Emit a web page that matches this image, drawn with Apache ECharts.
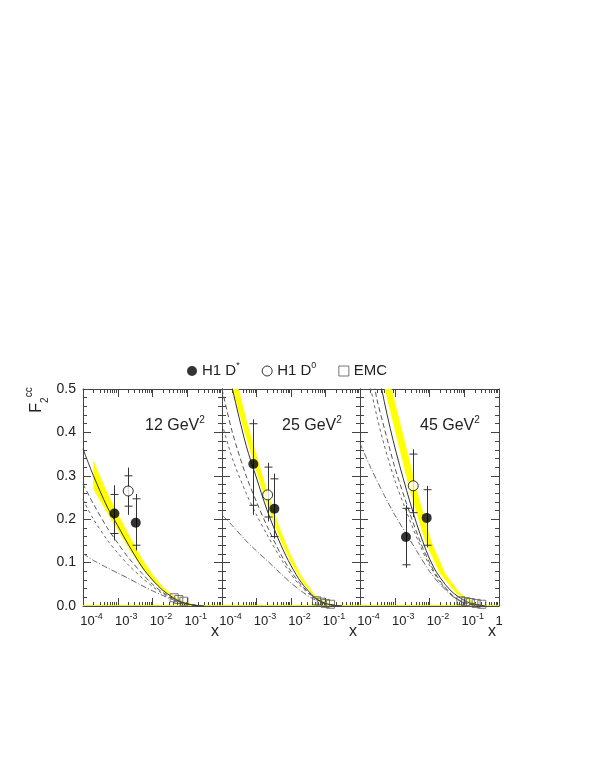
<!DOCTYPE html>
<html>
<head>
<meta charset="utf-8">
<script src="https://cdn.jsdelivr.net/npm/echarts@6/dist/echarts.min.js"></script>
<style>
  html, body { margin: 0; padding: 0; background: #fff; }
  #chart { width: 599px; height: 776px; }
</style>
</head>
<body>
<div id="chart"></div>
<script>
// Q^2 of each panel (GeV^2)
const PANEL_Q2 = ['12', '25', '45'];
// decade tick values of the x axis
const X_TICKS = [1e-4, 1e-3, 1e-2, 1e-1, 1];

// H1 D* : [panel, x, F2cc, statLo, statHi, totLo, totHi]
const H1_DSTAR = [
  [0, 8.0e-4, 0.213, 0.167, 0.257, 0.151, 0.278],
  [0, 3.3e-3, 0.192, 0.140, 0.247, 0.128, 0.258],
  [1, 8.1e-4, 0.327, 0.232, 0.420, 0.210, 0.430],
  [1, 3.3e-3, 0.224, 0.160, 0.293, 0.155, 0.305],
  [2, 2.1e-3, 0.159, 0.095, 0.225, 0.088, 0.232],
  [2, 8.3e-3, 0.203, 0.140, 0.268, 0.135, 0.277]
];
// H1 D0 : [panel, x, F2cc, statLo, statHi, totLo, totHi]
const H1_D0 = [
  [0, 2.0e-3, 0.265, 0.230, 0.300, 0.210, 0.319],
  [1, 2.1e-3, 0.256, 0.205, 0.320, 0.195, 0.330],
  [2, 3.4e-3, 0.277, 0.215, 0.350, 0.205, 0.361]
];
// EMC : [panel, x, F2cc]
const EMC = [
  [0, 0.042, 0.019], [0, 0.057, 0.015], [0, 0.080, 0.011],
  [1, 0.055, 0.012], [1, 0.075, 0.009], [1, 0.100, 0.006], [1, 0.140, 0.004],
  [2, 0.080, 0.012], [2, 0.110, 0.010], [2, 0.150, 0.008], [2, 0.220, 0.006], [2, 0.320, 0.004]
];

// theory curves, one list of [x, F2cc] per panel
const SOLID = [
  [[1e-4, 0.362], [2e-4, 0.300], [5e-4, 0.228], [1e-3, 0.185], [2e-3, 0.142], [5e-3, 0.090], [1e-2, 0.060], [2e-2, 0.036], [5e-2, 0.014], [0.1, 0.005], [0.2, 0.001], [0.3, 0]],
  [[1.7e-4, 0.530], [2e-4, 0.500], [5e-4, 0.370], [1e-3, 0.295], [2e-3, 0.222], [5e-3, 0.142], [1e-2, 0.093], [2e-2, 0.054], [5e-2, 0.019], [0.1, 0.006], [0.2, 0.001], [0.3, 0]],
  [[3.8e-4, 0.530], [4.2e-4, 0.500], [9e-4, 0.381], [2.2e-3, 0.266], [5.3e-3, 0.167], [1.3e-2, 0.090], [3.9e-2, 0.037], [0.117, 0.010], [0.28, 0.002], [0.4, 0]]
];
const DASH_A = [
  [[1e-4, 0.281], [2e-4, 0.235], [5e-4, 0.180], [1e-3, 0.145], [2e-3, 0.112], [5e-3, 0.075], [1e-2, 0.050], [2e-2, 0.031], [5e-2, 0.013], [0.1, 0.005], [0.2, 0.001], [0.3, 0]],
  [[1e-4, 0.500], [2e-4, 0.400], [5e-4, 0.300], [1e-3, 0.240], [2e-3, 0.185], [5e-3, 0.120], [1e-2, 0.080], [2e-2, 0.048], [5e-2, 0.018], [0.1, 0.006], [0.2, 0.001], [0.3, 0]],
  [[2.4e-4, 0.530], [3e-4, 0.480], [5e-4, 0.410], [1e-3, 0.320], [2e-3, 0.245], [5e-3, 0.155], [1e-2, 0.100], [2e-2, 0.058], [5e-2, 0.022], [0.1, 0.008], [0.2, 0.002], [0.3, 0]]
];
const DASH_B = [
  [[1e-4, 0.245], [2e-4, 0.200], [5e-4, 0.152], [1e-3, 0.122], [2e-3, 0.095], [5e-3, 0.065], [1e-2, 0.045], [2e-2, 0.028], [5e-2, 0.012], [0.1, 0.004], [0.2, 0.001], [0.3, 0]],
  [[1e-4, 0.420], [2e-4, 0.340], [5e-4, 0.260], [1e-3, 0.210], [2e-3, 0.165], [5e-3, 0.110], [1e-2, 0.073], [2e-2, 0.044], [5e-2, 0.017], [0.1, 0.006], [0.2, 0.001], [0.3, 0]],
  [[1.7e-4, 0.530], [3e-4, 0.440], [5e-4, 0.370], [1e-3, 0.290], [2e-3, 0.225], [5e-3, 0.145], [1e-2, 0.094], [2e-2, 0.055], [5e-2, 0.021], [0.1, 0.008], [0.2, 0.002], [0.3, 0]]
];
const DASH_DOT = [
  [[1e-4, 0.121], [2e-4, 0.105], [5e-4, 0.088], [1e-3, 0.076], [2e-3, 0.064], [5e-3, 0.047], [1e-2, 0.035], [2e-2, 0.024], [5e-2, 0.011], [0.1, 0.004], [0.2, 0.001], [0.3, 0]],
  [[1e-4, 0.210], [2e-4, 0.185], [5e-4, 0.150], [1e-3, 0.127], [2e-3, 0.105], [5e-3, 0.075], [1e-2, 0.053], [2e-2, 0.034], [5e-2, 0.014], [0.1, 0.005], [0.2, 0.001], [0.3, 0]],
  [[1e-4, 0.375], [2e-4, 0.320], [5e-4, 0.255], [1e-3, 0.210], [2e-3, 0.170], [5e-3, 0.118], [1e-2, 0.080], [2e-2, 0.050], [5e-2, 0.020], [0.1, 0.007], [0.2, 0.002], [0.3, 0]]
];
// yellow band: upper (right) edge and lower (left) edge per panel
const BAND_HI = [
  [[2e-4, 0.335], [3e-4, 0.300], [5e-4, 0.260], [1e-3, 0.212], [2e-3, 0.166], [5e-3, 0.108], [1e-2, 0.072], [2e-2, 0.043], [5e-2, 0.017], [0.1, 0.006], [0.2, 0.001], [0.3, 0]],
  [[2.8e-4, 0.530], [3e-4, 0.500], [5e-4, 0.430], [1e-3, 0.345], [2e-3, 0.265], [5e-3, 0.173], [1e-2, 0.115], [2e-2, 0.068], [5e-2, 0.024], [0.1, 0.008], [0.2, 0.001], [0.3, 0]],
  [[7.6e-4, 0.530], [8.1e-4, 0.500], [4.3e-3, 0.266], [1.08e-2, 0.151], [2.8e-2, 0.075], [7.5e-2, 0.029], [0.2, 0.006], [0.35, 0]]
];
const BAND_LO = [
  [[2e-4, 0.270], [3e-4, 0.245], [5e-4, 0.215], [1e-3, 0.175], [2e-3, 0.135], [5e-3, 0.088], [1e-2, 0.058], [2e-2, 0.035], [5e-2, 0.014], [0.1, 0.005], [0.2, 0.001], [0.3, 0]],
  [[1.9e-4, 0.530], [2e-4, 0.500], [5e-4, 0.390], [1e-3, 0.310], [2e-3, 0.235], [5e-3, 0.152], [1e-2, 0.100], [2e-2, 0.058], [5e-2, 0.020], [0.1, 0.006], [0.2, 0.001], [0.3, 0]],
  [[4.9e-4, 0.530], [5.2e-4, 0.500], [2.75e-3, 0.266], [7.4e-3, 0.151], [2.0e-2, 0.075], [6.0e-2, 0.029], [0.18, 0.006], [0.35, 0]]
];
// yellow line along the bottom of each panel
const BAND_FLOOR = [[1e-4, 0.001], [1, 0.001]];

const FONT = '"Liberation Sans", Arial, Helvetica, sans-serif';
const INK = '#222';
const FRAME = '#444';
const GRIDS = [
  { left: 83, top: 389, width: 139, height: 217 },
  { left: 222, top: 389, width: 138, height: 217 },
  { left: 360, top: 389, width: 139, height: 217 }
];

const xMinor = [];
X_TICKS.slice(0, -1).forEach(d => { for (let k = 2; k <= 9; k++) xMinor.push(+(d * k).toPrecision(3)); });

function xLabel(v) {
  const e = Math.round(Math.log10(v));
  if (e === 0) return '{b|1}';
  return '{p|}{b|10}{s|' + e + '}';
}
const xRich = {
  p: { width: 17 },
  b: { fontSize: 13, fontFamily: FONT, color: INK, lineHeight: 19 },
  s: { fontSize: 9, fontFamily: FONT, color: INK, lineHeight: 9, verticalAlign: 'top' }
};

const grid = GRIDS.map(g => Object.assign({ containLabel: false }, g));
const xAxis = [];
const yAxis = [];
const series = [];

GRIDS.forEach((g, i) => {
  const common = {
    type: 'log', logBase: 10, gridIndex: i, min: 1e-4, max: 1,
    axisLine: { show: true, onZero: false, lineStyle: { color: FRAME, width: 1 } },
    axisTick: { show: true, inside: true, length: 8, lineStyle: { color: FRAME } },
    splitLine: { show: false }
  };
  xAxis.push(Object.assign({}, common, {
    position: 'bottom',
    axisLabel: {
      show: true, formatter: xLabel, rich: xRich, margin: 6,
      showMinLabel: true, showMaxLabel: i === 2
    }
  }));
  xAxis.push(Object.assign({}, common, { position: 'top', axisLabel: { show: false } }));

  const yCommon = {
    type: 'value', gridIndex: i, min: 0, max: 0.5, interval: 0.1,
    axisLine: { show: true, lineStyle: { color: FRAME, width: 1 } },
    axisTick: { show: true, inside: true, length: 8, lineStyle: { color: FRAME } },
    minorTick: { show: true, splitNumber: 5, length: 4, lineStyle: { color: FRAME } },
    splitLine: { show: false },
    minorSplitLine: { show: false }
  };
  yAxis.push(Object.assign({}, yCommon, {
    position: 'left',
    axisLabel: {
      show: i === 0, formatter: v => v.toFixed(1), margin: 7,
      fontSize: 14, fontFamily: FONT, color: INK
    }
  }));
  yAxis.push(Object.assign({}, yCommon, { position: 'right', axisLabel: { show: false } }));

  const xa = 2 * i, ya = 2 * i;

  // minor log ticks on bottom and top edges
  series.push({
    type: 'custom', xAxisIndex: xa, yAxisIndex: ya, silent: true, z: 1,
    data: xMinor.map(x => [x, 0]),
    renderItem: (params, api) => {
      const b = api.coord([api.value(0), 0]);
      const t = api.coord([api.value(0), 0.5]);
      const x = Math.round(b[0]) + 0.5;
      return {
        type: 'group', children: [
          { type: 'line', shape: { x1: x, y1: b[1], x2: x, y2: b[1] - 4 }, style: { stroke: FRAME, lineWidth: 1 } },
          { type: 'line', shape: { x1: x, y1: t[1], x2: x, y2: t[1] + 4 }, style: { stroke: FRAME, lineWidth: 1 } }
        ]
      };
    }
  });

  // yellow band
  const bandPts = BAND_HI[i].concat(BAND_LO[i].slice().reverse());
  series.push({
    type: 'custom', xAxisIndex: xa, yAxisIndex: ya, silent: true, clip: true, z: 2,
    data: bandPts,
    renderItem: (params, api) => {
      if (params.dataIndex !== 0) return null;
      return {
        type: 'polygon',
        shape: { points: bandPts.map(p => api.coord(p)) },
        style: { fill: '#ffff00', stroke: '#ffff00', lineWidth: 0.5 }
      };
    }
  });
  series.push({
    type: 'line', xAxisIndex: xa, yAxisIndex: ya, data: BAND_FLOOR, showSymbol: false, silent: true, z: 2,
    lineStyle: { color: '#f0f000', width: 1 }
  });

  // theory curves
  const curve = (data, color, type) => ({
    type: 'line', xAxisIndex: xa, yAxisIndex: ya, data: data, showSymbol: false, silent: true,
    smooth: 0.3, clip: true, z: 3,
    lineStyle: { color: color, width: 1, type: type }
  });
  series.push(curve(DASH_DOT[i], '#666', [6, 2, 1, 2]));
  series.push(curve(DASH_B[i], '#666', [3, 3]));
  series.push(curve(DASH_A[i], '#555', [5, 3]));
  series.push(curve(SOLID[i], '#333', 'solid'));

  // error bars
  const errRows = H1_DSTAR.concat(H1_D0).filter(r => r[0] === i).map(r => r.slice(1));
  series.push({
    type: 'custom', xAxisIndex: xa, yAxisIndex: ya, silent: true, z: 4,
    data: errRows,
    renderItem: (params, api) => {
      const x = api.value(0);
      const lo = api.coord([x, api.value(4)]);
      const hi = api.coord([x, api.value(5)]);
      const sl = api.coord([x, api.value(2)]);
      const sh = api.coord([x, api.value(3)]);
      const px = Math.round(lo[0]) + 0.5;
      const st = { stroke: '#333', lineWidth: 1 };
      return {
        type: 'group', children: [
          { type: 'line', shape: { x1: px, y1: lo[1], x2: px, y2: hi[1] }, style: st },
          { type: 'line', shape: { x1: px - 4, y1: sl[1], x2: px + 4, y2: sl[1] }, style: st },
          { type: 'line', shape: { x1: px - 4, y1: sh[1], x2: px + 4, y2: sh[1] }, style: st }
        ]
      };
    }
  });

  series.push({
    name: 'H1 D*', type: 'scatter', xAxisIndex: xa, yAxisIndex: ya, z: 5,
    data: H1_DSTAR.filter(r => r[0] === i).map(r => [r[1], r[2]]),
    symbol: 'circle', symbolSize: 10, itemStyle: { color: '#000' }
  });
  series.push({
    name: 'H1 D0', type: 'scatter', xAxisIndex: xa, yAxisIndex: ya, z: 5,
    data: H1_D0.filter(r => r[0] === i).map(r => [r[1], r[2]]),
    symbol: 'circle', symbolSize: 10, itemStyle: { color: '#fff', borderColor: '#000', borderWidth: 1 }
  });
  series.push({
    name: 'EMC', type: 'scatter', xAxisIndex: xa, yAxisIndex: ya, z: 5,
    data: EMC.filter(r => r[0] === i).map(r => [r[1], r[2]]),
    symbol: 'rect', symbolSize: 8, itemStyle: { color: 'rgba(255,255,255,0)', borderColor: '#555', borderWidth: 1 }
  });
});

const graphic = [
  {
    type: 'text', x: 37, y: 400, rotation: Math.PI / 2,
    style: {
      text: '{f|F}{s|2}{c|cc}',
      align: 'center', verticalAlign: 'middle',
      rich: {
        f: { fontSize: 16, fontFamily: FONT, fill: INK, lineHeight: 26 },
        s: { fontSize: 10, fontFamily: FONT, fill: INK, lineHeight: 12, verticalAlign: 'bottom' },
        c: { fontSize: 10, fontFamily: FONT, fill: INK, lineHeight: 12, verticalAlign: 'top' }
      }
    }
  }
];
const labelX = [145, 282, 420];
PANEL_Q2.forEach((q, i) => {
  graphic.push({
    type: 'text', x: labelX[i], y: 426,
    style: {
      text: '{n|' + q + ' GeV}{s|2}',
      verticalAlign: 'middle',
      rich: {
        n: { fontSize: 16, fontFamily: FONT, fill: INK, lineHeight: 22 },
        s: { fontSize: 10, fontFamily: FONT, fill: INK, lineHeight: 14, verticalAlign: 'top' }
      }
    }
  });
  const g = GRIDS[i];
  graphic.push({
    type: 'text', x: g.left + g.width - 7, y: 632,
    style: { text: 'x', fontSize: 16, fontFamily: FONT, fill: INK, align: 'center', verticalAlign: 'middle' }
  });
});

const chart = echarts.init(document.getElementById('chart'), null, { renderer: 'canvas' });
chart.setOption({
  animation: false,
  backgroundColor: '#fff',
  grid: grid,
  xAxis: xAxis,
  yAxis: yAxis,
  legend: {
    left: 182, top: 356, itemGap: 22, itemWidth: 10, itemHeight: 10,
    data: [
      { name: 'H1 D*', icon: 'circle', itemStyle: { color: '#000' } },
      { name: 'H1 D0', icon: 'circle', itemStyle: { color: '#fff', borderColor: '#000', borderWidth: 1 } },
      { name: 'EMC', icon: 'rect', itemStyle: { color: '#fff', borderColor: '#555', borderWidth: 1 } }
    ],
    formatter: name => {
      if (name === 'H1 D*') return '{b|H1 D}{s|*}';
      if (name === 'H1 D0') return '{b|H1 D}{s|0}';
      return '{b|EMC}';
    },
    textStyle: {
      rich: {
        b: { fontSize: 15, fontFamily: FONT, color: INK, lineHeight: 20 },
        s: { fontSize: 9, fontFamily: FONT, color: INK, lineHeight: 12, verticalAlign: 'top' }
      }
    }
  },
  graphic: graphic,
  series: series
});
</script>
</body>
</html>
